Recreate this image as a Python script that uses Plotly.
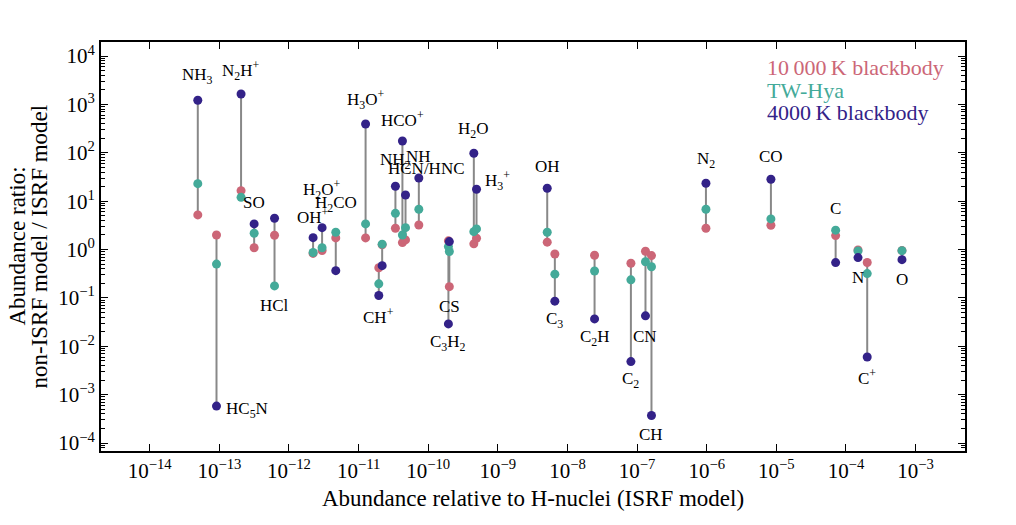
import numpy as np
import plotly.graph_objects as go

# ---------------- data ----------------
species = ["NH<sub>3</sub>", "HC<sub>5</sub>N", "N<sub>2</sub>H<sup>+</sup>", "SO", "HCl",
           "OH<sup>+</sup>", "H<sub>2</sub>O<sup>+</sup>", "H<sub>2</sub>CO", "H<sub>3</sub>O<sup>+</sup>",
           "CH<sup>+</sup>", "", "NH<sub>2</sub>", "HCO<sup>+</sup>", "HCN/HNC", "NH",
           "CS", "C<sub>3</sub>H<sub>2</sub>", "H<sub>2</sub>O", "H<sub>3</sub><sup>+</sup>", "OH",
           "C<sub>3</sub>", "C<sub>2</sub>H", "C<sub>2</sub>", "CN", "CH",
           "N<sub>2</sub>", "CO", "C", "N", "C<sup>+</sup>", "O"]

abundance_isrf = [4.9e-14, 9.1e-14, 2.05e-13, 3.16e-13, 6.2e-13,
                  2.22e-12, 2.99e-12, 4.7e-12, 1.26e-11,
                  1.95e-11, 2.18e-11, 3.38e-11, 4.26e-11, 4.72e-11, 7.33e-11,
                  2.01e-10, 1.95e-10, 4.52e-10, 4.94e-10, 5.12e-9,
                  6.59e-9, 2.45e-8, 8.15e-8, 1.32e-7, 1.61e-7,
                  9.75e-7, 8.36e-6, 7.11e-5, 1.49e-4, 2.02e-4, 6.38e-4]

ratio_10000K = [5.2, 2.0, 16.5, 1.09, 1.97,
                0.83, 0.95, 1.74, 1.74,
                0.42, 1.25, 2.75, 1.39, 1.58, 3.22,
                0.171, 1.51, 1.31, 1.71, 1.42,
                0.81, 0.76, 0.52, 0.92, 0.75,
                2.75, 3.18, 1.94, 0.98, 0.54, 0.95]

ratio_twhya = [23.0, 0.50, 12.0, 2.17, 0.177,
               0.87, 1.09, 2.28, 3.38,
               0.195, 1.29, 5.6, 2.0, 2.83, 6.8,
               0.91, 1.15, 2.34, 2.67, 2.28,
               0.31, 0.36, 0.236, 0.56, 0.44,
               6.8, 4.3, 2.51, 0.935, 0.318, 0.948]

ratio_4000K = [1216, 5.8e-4, 1640, 3.38, 4.44,
               1.76, 2.83, 0.366, 394,
               0.112, 0.464, 20.3, 175, 13.4, 30.1,
               1.46, 0.029, 97.7, 17.6, 18.5,
               0.0855, 0.0368, 0.00483, 0.0425, 3.7e-4,
               23.4, 28.3, 0.536, 0.681, 6.0e-3, 0.618]

series_names = ["10\u2009000\u2009K blackbody", "TW-Hya", "4000\u2009K blackbody"]

# ---------------- style ----------------
C_PINK, C_TEAL, C_NAVY = "#CC6677", "#44AA99", "#332288"
FONT = "Liberation Serif"

# label placement: (anchor 'top'/'bottom', xshift px, yshift px, xanchor)
label_place = [("top", 0, 24, "center"), ("bottom", 7, -4, "left"), ("top", 0, 24, "center"),
               ("top", 0, 21, "center"), ("bottom", 0, -20, "center"),
               ("top", 0, 22, "center"), ("top", 0, 38, "center"), ("top", 0, 28, "center"),
               ("top", 0, 24, "center"),
               ("bottom", 0, -20, "center"), None, ("top", 0, 25, "center"),
               ("top", 0, 22, "center"), ("top", 21, 27, "center"), ("top", 0, 22, "center"),
               ("bottom", 0, -20, "center"), ("bottom", 0, -19, "center"),
               ("top", 0, 23, "center"), ("top", 21, 9, "center"), ("top", 0, 22, "center"),
               ("bottom", 0, -19, "center"), ("bottom", 0, -19, "center"), ("bottom", 0, -18, "center"),
               ("bottom", 0, -21, "center"), ("bottom", 0, -19, "center"),
               ("top", 0, 23, "center"), ("top", 0, 23, "center"), ("top", 0, 22, "center"),
               ("bottom", 0, -20, "center"), ("bottom", 0, -20, "center"), ("bottom", 0, -20, "center")]

fig = go.Figure()

# vertical connecting lines
lx, ly = [], []
for x, a, b, c in zip(abundance_isrf, ratio_10000K, ratio_twhya, ratio_4000K):
    lx += [x, x, None]
    ly += [min(a, b, c), max(a, b, c), None]
fig.add_trace(go.Scatter(x=lx, y=ly, mode="lines", line=dict(color="#888888", width=2),
                         showlegend=False, hoverinfo="skip"))

for vals, col, name in zip([ratio_10000K, ratio_twhya, ratio_4000K],
                           [C_PINK, C_TEAL, C_NAVY], series_names):
    fig.add_trace(go.Scatter(x=abundance_isrf, y=vals, mode="markers", name=name,
                             marker=dict(color=col, size=9, line=dict(width=0)),
                             showlegend=False))

ann = []
for name, x, a, b, c, pl in zip(species, abundance_isrf, ratio_10000K, ratio_twhya,
                                 ratio_4000K, label_place):
    if pl is None or not name:
        continue
    side, dx, dy, xa = pl
    yv = max(a, b, c) if side == "top" else min(a, b, c)
    ann.append(dict(x=np.log10(x), y=np.log10(yv), xref="x", yref="y", text=name,
                    showarrow=False, xshift=dx, yshift=dy, xanchor=xa, yanchor="middle",
                    font=dict(family=FONT, size=17, color="black")))

L, R, T, B = 101, 965, 42, 451

# colored legend text
for i, (name, col) in enumerate(zip(series_names, [C_PINK, C_TEAL, C_NAVY])):
    ann.append(dict(x=(765 - L) / (R - L), y=1 - (68 + 22.5 * i - T) / (B - T),
                    xref="x domain", yref="y domain", text=name,
                    showarrow=False, xanchor="left", yanchor="middle",
                    font=dict(family=FONT, size=22, color=col)))

# y axis title (two lines)
for px, line in [(17, "Abundance ratio:"), (39, "non-ISRF model / ISRF model")]:
    ann.append(dict(x=(px - L) / (R - L), y=0.5, xref="x domain", yref="y domain",
                    text=line, textangle=-90,
                    showarrow=False, xanchor="center", yanchor="middle",
                    font=dict(family=FONT, size=23, color="black")))

xt = list(range(-14, -2))
yt = list(range(-4, 5))
ymin = [np.log10(m) + k for k in range(-5, 5) for m in range(2, 10)]
ymin = [10 ** v for v in ymin]

def sup(e):
    return "10<sup>" + ("\u2212" + str(-e) if e < 0 else str(e)) + "</sup>"

fig.update_layout(
    width=1016, height=525,
    margin=dict(l=L, r=1016 - R, t=T, b=525 - B),
    paper_bgcolor="white", plot_bgcolor="white",
    font=dict(family=FONT, size=21, color="black"),
    annotations=ann,
    xaxis=dict(type="log", range=[-14.70, -2.29], showgrid=False, zeroline=False,
               tickvals=[10 ** e for e in xt], ticktext=[sup(e) for e in xt],
               ticks="inside", ticklen=7, tickwidth=1, tickcolor="black",
               showline=True, linewidth=2, linecolor="black", mirror="allticks",
               title=dict(text="Abundance relative to H-nuclei (ISRF model)",
                          font=dict(family=FONT, size=23), standoff=8)),
    yaxis=dict(type="log", range=[-4.165, 4.29], showgrid=False, zeroline=False,
               tickvals=[10 ** e for e in yt], ticktext=[sup(e) for e in yt],
               ticks="inside", ticklen=7, tickwidth=1, tickcolor="black",
               showline=True, linewidth=2, linecolor="black", mirror="allticks",
               minor=dict(tickvals=ymin, ticks="inside", ticklen=4, tickwidth=1,
                          tickcolor="black", showgrid=False)),
)

fig.write_html("out.html")
